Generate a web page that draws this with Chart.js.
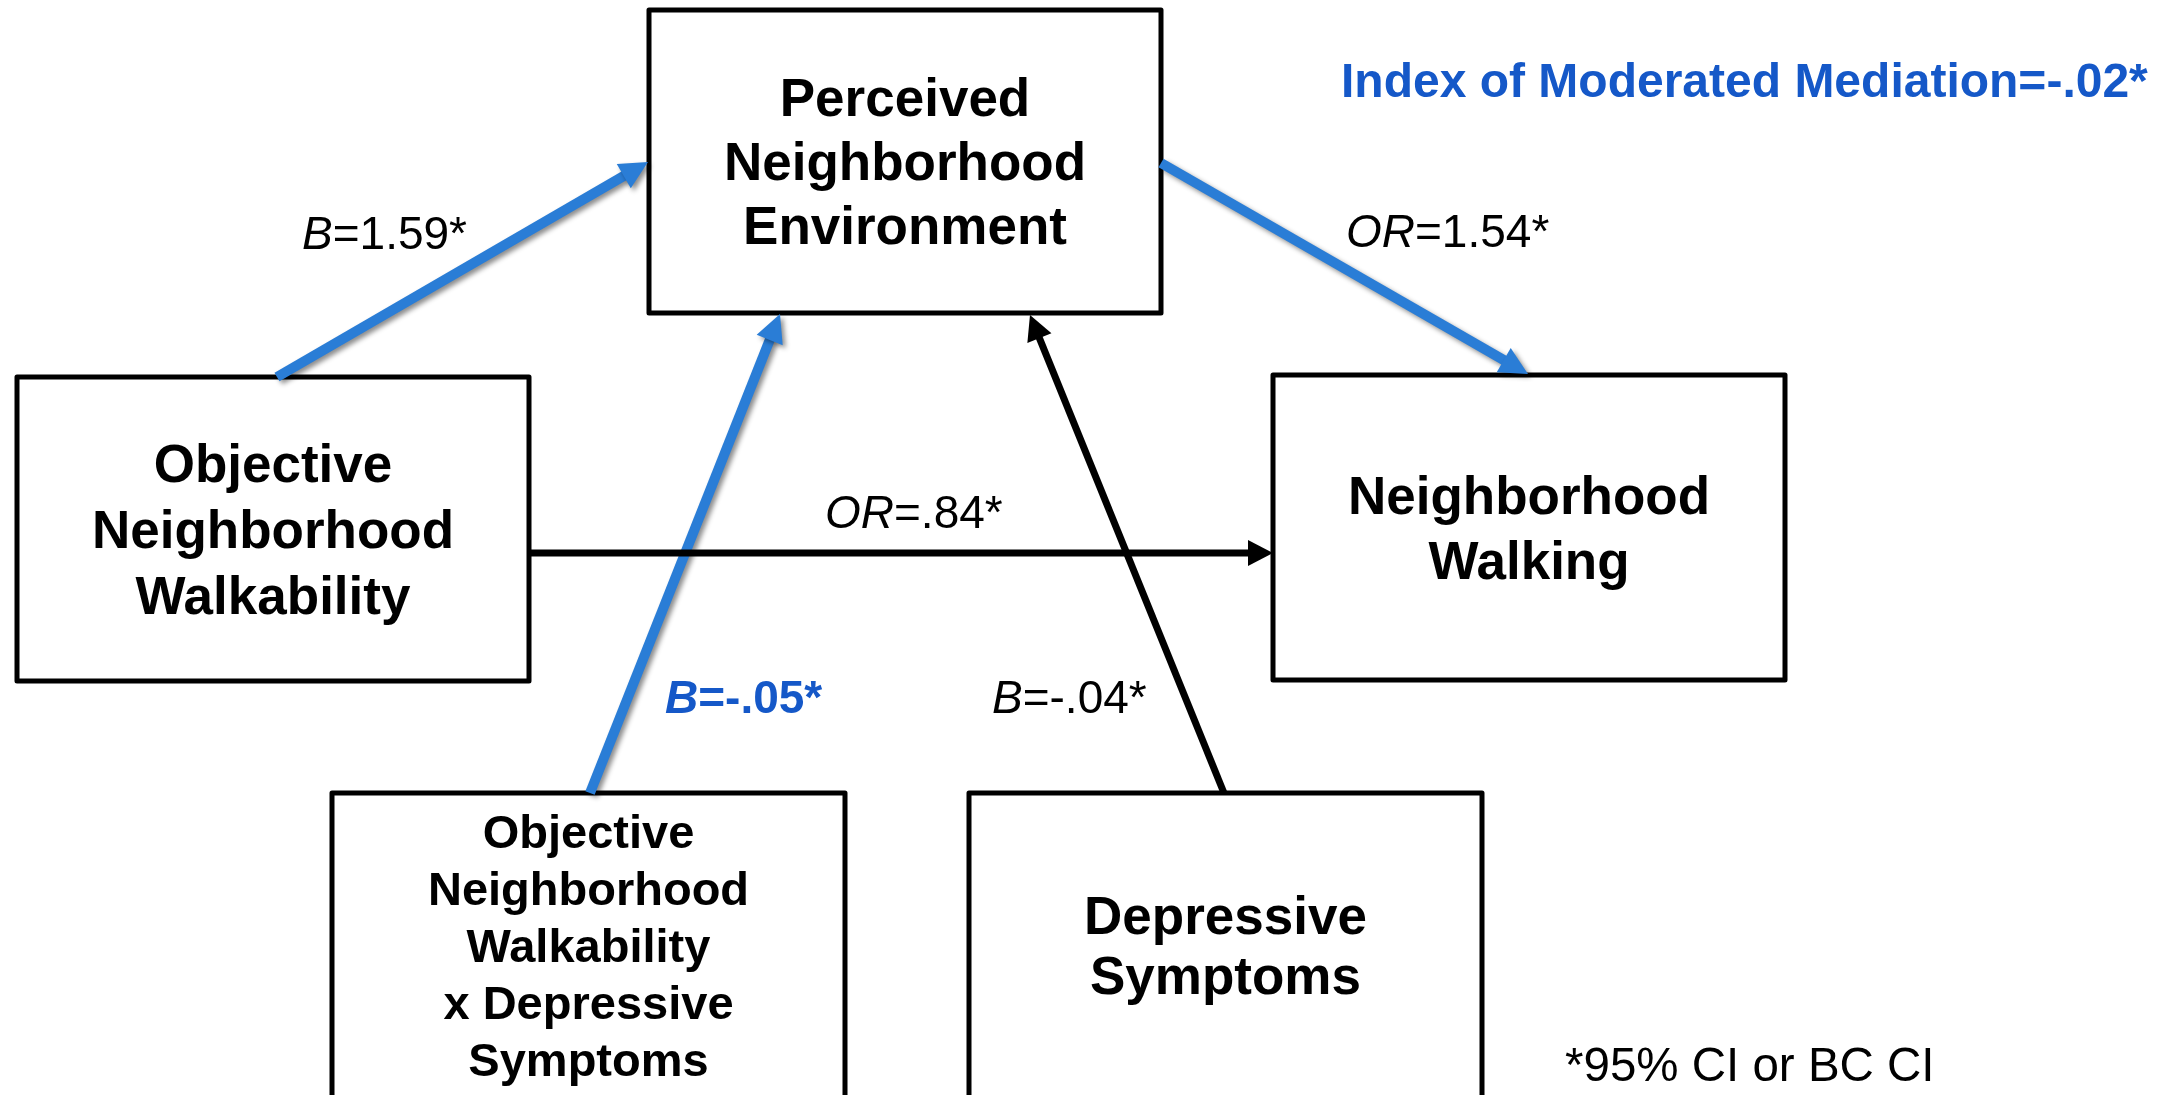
<!DOCTYPE html>
<html>
<head>
<meta charset="utf-8">
<script src="https://cdn.jsdelivr.net/npm/chart.js@4"></script>
<style>
  html, body { margin: 0; padding: 0; background: #fff; }
  canvas { display: block; }
</style>
</head>
<body>
<canvas id="pathChart" width="2162" height="1095"></canvas>
<script>
// model variables (boxes)
const nodeLabels = [
  ["Perceived", "Neighborhood", "Environment"],
  ["Objective", "Neighborhood", "Walkability"],
  ["Neighborhood", "Walking"],
  ["Objective", "Neighborhood", "Walkability", "x Depressive", "Symptoms"],
  ["Depressive", "Symptoms"]
];

// paths between boxes and their coefficients
const pathFrom = [1, 0, 1, 3, 4];
const pathTo = [0, 2, 2, 0, 0];
const pathStat = ["B", "OR", "OR", "B", "B"];
const pathValue = ["=1.59*", "=1.54*", "=.84*", "=-.05*", "=-.04*"];
const pathHighlight = [true, true, false, true, false];

const indexText = "Index of Moderated Mediation=-.02*";
const footnoteText = "*95% CI or BC CI";

// layout (diagram units = pixels of the 2162x1095 picture)
const W = 2162, H = 1095;
const boxRects = [
  [649, 10, 1161, 313],
  [17, 377, 529, 681],
  [1273, 375, 1785, 680],
  [332, 793, 845, 1098],
  [969, 793, 1482, 1098]
];
const boxFont = [[53, 64], [53, 66], [53, 65], [47, 57], [53, 60]];
const pathEnds = [
  [277, 377, 648, 162],
  [1161, 163, 1528, 374],
  [529, 553, 1273, 553],
  [590, 793, 780, 314],
  [1224, 793, 1030, 315]
];
const labelPos = [[302, 249], [1346, 247], [825, 528], [665, 713], [992, 713]];
const indexPos = [1341, 97];
const footnotePos = [1565, 1081];

const BLUE_LINE = "#2A7DD6";
const BLUE_TEXT = "#1558C8";
const FONT = "'Liberation Sans', Arial, sans-serif";

function headSize(i) {
  return pathHighlight[i] ? [28, 14] : [25, 13];
}

// arrow shafts as line datasets, black ones first so blue sits on top
const order = [2, 4, 0, 1, 3];
const datasets = order.map((i) => {
  const [x0, y0, x1, y1] = pathEnds[i];
  const len = Math.hypot(x1 - x0, y1 - y0);
  const back = headSize(i)[0] * 0.85;
  const ex = x1 - ((x1 - x0) / len) * back;
  const ey = y1 - ((y1 - y0) / len) * back;
  return {
    label: nodeLabels[pathFrom[i]].join(" ") + " -> " + nodeLabels[pathTo[i]].join(" "),
    data: [{ x: x0, y: y0 }, { x: ex, y: ey }],
    showLine: true,
    pointRadius: 0,
    borderColor: pathHighlight[i] ? BLUE_LINE : "#000",
    borderWidth: pathHighlight[i] ? 10 : 7,
    borderCapStyle: "butt",
    shadow: pathHighlight[i],
    pathIndex: i
  };
});

function setShadow(ctx) {
  ctx.shadowColor = "rgba(0,0,0,0.45)";
  ctx.shadowBlur = 5;
  ctx.shadowOffsetX = 3;
  ctx.shadowOffsetY = 3;
}

const diagramPlugin = {
  id: "diagram",
  beforeDatasetsDraw(chart) {
    const { ctx, scales: { x, y } } = chart;
    ctx.save();
    ctx.lineWidth = 5;
    ctx.lineJoin = "round";
    ctx.strokeStyle = "#000";
    ctx.fillStyle = "#fff";
    boxRects.forEach((r) => {
      const px0 = x.getPixelForValue(r[0]), py0 = y.getPixelForValue(r[1]);
      const px1 = x.getPixelForValue(r[2]), py1 = y.getPixelForValue(r[3]);
      ctx.fillRect(px0, py0, px1 - px0, py1 - py0);
      ctx.strokeRect(px0, py0, px1 - px0, py1 - py0);
    });
    ctx.restore();
  },
  beforeDatasetDraw(chart, args) {
    const ds = chart.data.datasets[args.index];
    chart.ctx.save();
    if (ds.shadow) setShadow(chart.ctx);
  },
  afterDatasetDraw(chart, args) {
    const { ctx, scales: { x, y } } = chart;
    ctx.restore();
    // arrowhead
    const i = chart.data.datasets[args.index].pathIndex;
    const [x0, y0, x1, y1] = pathEnds[i];
    const tx = x.getPixelForValue(x1), ty = y.getPixelForValue(y1);
    const sx = x.getPixelForValue(x0), sy = y.getPixelForValue(y0);
    const len = Math.hypot(tx - sx, ty - sy);
    const ux = (tx - sx) / len, uy = (ty - sy) / len;
    const [hl, hw] = headSize(i);
    ctx.save();
    if (pathHighlight[i]) setShadow(ctx);
    ctx.fillStyle = pathHighlight[i] ? BLUE_LINE : "#000";
    ctx.beginPath();
    ctx.moveTo(tx, ty);
    ctx.lineTo(tx - ux * hl - uy * hw, ty - uy * hl + ux * hw);
    ctx.lineTo(tx - ux * hl + uy * hw, ty - uy * hl - ux * hw);
    ctx.closePath();
    ctx.fill();
    ctx.restore();
  },
  afterDatasetsDraw(chart) {
    const { ctx, scales: { x, y } } = chart;
    ctx.save();
    // box texts
    ctx.fillStyle = "#000";
    ctx.textAlign = "center";
    ctx.textBaseline = "alphabetic";
    nodeLabels.forEach((lines, k) => {
      const r = boxRects[k];
      const [fs, lh] = boxFont[k];
      const cx = x.getPixelForValue((r[0] + r[2]) / 2);
      const cy = y.getPixelForValue((r[1] + r[3]) / 2);
      ctx.font = "bold " + fs + "px " + FONT;
      lines.forEach((t, j) => {
        const by = cy + (j - (lines.length - 1) / 2) * lh + fs * 0.716 / 2;
        ctx.fillText(t, cx, by);
      });
    });
    // path coefficients
    ctx.textAlign = "left";
    pathStat.forEach((s, i) => {
      const px = x.getPixelForValue(labelPos[i][0]);
      const py = y.getPixelForValue(labelPos[i][1]);
      const w = pathHighlight[i] && i === 3 ? "bold " : "";
      ctx.fillStyle = w ? BLUE_TEXT : "#000";
      ctx.font = "italic " + w + "46px " + FONT;
      ctx.fillText(s, px, py);
      const sw = ctx.measureText(s).width;
      ctx.font = w + "46px " + FONT;
      ctx.fillText(pathValue[i], px + sw, py);
    });
    // index of moderated mediation
    ctx.fillStyle = BLUE_TEXT;
    ctx.font = "bold 48px " + FONT;
    ctx.fillText(indexText, x.getPixelForValue(indexPos[0]), y.getPixelForValue(indexPos[1]));
    // footnote
    ctx.fillStyle = "#000";
    ctx.font = "47.5px " + FONT;
    ctx.fillText(footnoteText, x.getPixelForValue(footnotePos[0]), y.getPixelForValue(footnotePos[1]));
    ctx.restore();
  }
};

new Chart(document.getElementById("pathChart").getContext("2d"), {
  type: "scatter",
  data: { datasets: datasets },
  options: {
    responsive: false,
    animation: false,
    events: [],
    layout: { padding: 0 },
    plugins: { legend: { display: false }, tooltip: { enabled: false } },
    scales: {
      x: { type: "linear", min: 0, max: W, display: false },
      y: { type: "linear", min: 0, max: H, reverse: true, display: false }
    }
  },
  plugins: [diagramPlugin]
});
</script>
</body>
</html>
